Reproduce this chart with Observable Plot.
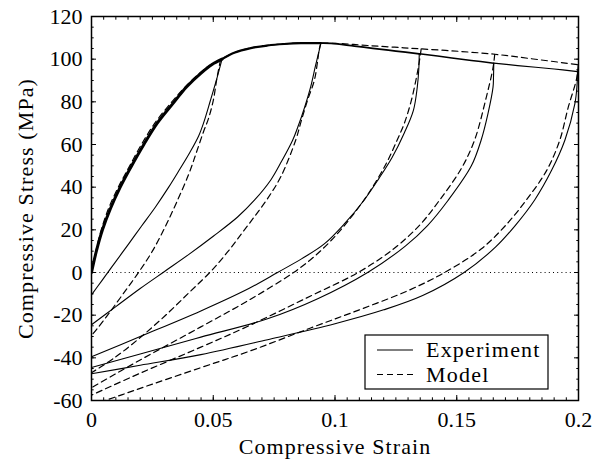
<!DOCTYPE html>
<html><head><meta charset="utf-8">
<script src="https://cdn.jsdelivr.net/npm/d3@7"></script>
<script src="https://cdn.jsdelivr.net/npm/@observablehq/plot@0.6"></script>
<style>
body{margin:0;background:#fff}
#chart{width:604px;height:461px}
#chart svg text{font-family:'Liberation Serif', serif !important}
</style>
</head><body><div id="chart"></div>
<script>
// ---- tick values & labels ----
const xMajor = [0, 0.05, 0.1, 0.15, 0.2];
const xMajorLabels = ["0", "0.05", "0.1", "0.15", "0.2"];
const xMinor = d3.range(0, 41).map(i => i / 200);
const yMajor = [-60, -40, -20, 0, 20, 40, 60, 80, 100, 120];
const yMajorLabels = ["-60", "-40", "-20", "0", "20", "40", "60", "80", "100", "120"];
const yMinor = d3.range(-60, 121, 5);

// ---- strains where unloading starts (experiment) ----
const unloadStrains = [0.0536, 0.0942, 0.1346, 0.1652, 0.1996];

// ---- loading envelope, experiment [strain, stress] ----
const expEnvelope = [[0,0],[0.002,10],[0.0045,20],[0.0078,30],[0.0118,40],[0.016,49],[0.0215,60],[0.027,70],[0.034,80],[0.039,87],[0.045,93.5],[0.0495,97.5],[0.0536,100],[0.0586,103],[0.0654,105.2],[0.0723,106.4],[0.0791,107.1],[0.086,107.5],[0.0942,107.5],[0.0984,107.4],[0.108,106.1],[0.1155,105.1],[0.125,103.8],[0.1346,102.5],[0.148,100.6],[0.156,99.4],[0.1652,98.1],[0.175,97],[0.19,95.4],[0.1996,94.2]];
// ---- loading envelope, model ----
const modelEnvelope = [[0,0],[0.0018,10],[0.004,20],[0.007,30],[0.011,40],[0.0152,49],[0.0205,60],[0.026,70],[0.033,80],[0.0385,87],[0.0445,93.5],[0.049,97.4],[0.053,99.8],[0.0586,103],[0.0654,105.3],[0.0723,106.5],[0.0791,107.2],[0.086,107.6],[0.0942,107.6],[0.104,107.2],[0.1135,106.4],[0.1245,105.6],[0.1354,104.8],[0.1505,103.7],[0.1656,102.3],[0.18,100.3],[0.1999,97.4]];

// ---- unloading curves, experiment ----
const expUnload1 = [[0.0536,100],[0.0515,91],[0.0488,80.5],[0.046,70],[0.044,64],[0.0405,56.5],[0.0355,47],[0.0317,40],[0.0262,30.6],[0.0205,21.7],[0.0152,13.3],[0.0095,4.4],[0.0042,-3.9],[0,-10.5]];
const expUnload2 = [[0.0942,107.5],[0.0935,104],[0.092,97],[0.09,87],[0.0874,77],[0.085,69],[0.0826,62],[0.078,52],[0.0737,43.5],[0.067,34],[0.06,26],[0.05,17],[0.04,8.5],[0.03,0.5],[0.02,-7.5],[0.01,-16],[0,-24.5]];
const expUnload3 = [[0.1346,102.5],[0.1344,95],[0.1338,87],[0.1322,76],[0.1285,65.5],[0.1235,54],[0.118,44],[0.112,34],[0.104,23],[0.0956,13.4],[0.0864,6.5],[0.0764,0],[0.0646,-7.5],[0.0449,-18],[0.02,-30],[0,-39.5]];
const expUnload4 = [[0.1652,98.1],[0.1651,92],[0.1649,86.9],[0.1628,74.4],[0.16,62],[0.156,50],[0.1464,33.75],[0.138,22],[0.129,12.5],[0.1134,0],[0.0929,-12.3],[0.0723,-21.7],[0.0449,-30.3],[0.02,-38.2],[0,-44.5]];
const expUnload5 = [[0.1996,94.2],[0.1994,88],[0.1985,79],[0.1944,62],[0.189,48],[0.182,34],[0.174,22],[0.166,12],[0.153,0],[0.136,-10.8],[0.12,-17.5],[0.1,-24],[0.0723,-31.5],[0.0449,-38.5],[0.02,-43.5],[0,-47.5]];

// ---- unloading curves, model ----
const modelUnload1 = [[0.053,99.8],[0.0515,91],[0.05,80.6],[0.048,72],[0.046,66],[0.043,56],[0.04,46.3],[0.035,33],[0.0303,21.5],[0.025,10],[0.0193,0],[0.013,-10],[0.007,-19.4],[0.0022,-26.5],[0,-29.5]];
const modelUnload2 = [[0.0942,107.6],[0.0935,104.5],[0.0929,99.4],[0.0915,90],[0.0888,81],[0.086,70.5],[0.084,62.5],[0.0778,45],[0.0725,35],[0.0668,26],[0.0615,18],[0.0558,9.5],[0.049,0.5],[0.04,-9.5],[0.03,-20.5],[0.02,-30.5],[0.01,-39.5],[0,-47]];
const modelUnload3 = [[0.1354,104.8],[0.1345,98],[0.1332,90],[0.1312,80],[0.1285,70],[0.1255,62],[0.121,51],[0.114,37.5],[0.106,25],[0.0984,15],[0.091,7],[0.083,0],[0.0646,-13],[0.0449,-25.5],[0.02,-41],[0,-54]];
const modelUnload4 = [[0.1656,102.3],[0.1649,96],[0.1621,82],[0.1573,62],[0.152,49],[0.143,34],[0.135,22.5],[0.124,11],[0.1095,0],[0.09,-11],[0.0646,-25],[0.0449,-35],[0.02,-47.2],[0,-57.5]];
const modelUnload5 = [[0.1999,97.4],[0.1992,90.8],[0.1958,77.5],[0.1923,62],[0.187,48],[0.1786,34],[0.17,22],[0.16,11],[0.145,0],[0.13,-8.5],[0.11,-17.5],[0.09,-26],[0.0646,-37],[0.0449,-44.6],[0.02,-54.3],[0.0097,-58.4],[0,-62]];

const expUnloads = [expUnload1, expUnload2, expUnload3, expUnload4, expUnload5];
const modelUnloads = [modelUnload1, modelUnload2, modelUnload3, modelUnload4, modelUnload5];

// ---- build tables ----
const toRows = (arr, id) => arr.map(([x, y]) => ({x, y, id}));
const expRows = expUnloads.flatMap((a, i) => toRows(a, "e" + i));
const modelRows = modelUnloads.flatMap((a, i) => toRows(a, "m" + i));
const modelEnvRows = toRows(modelEnvelope, "menv");
// envelope split into segments between unloading strains (overlapping reloads look thicker)
const bounds = [0, ...unloadStrains];
const envWidths = [3, 2.2, 1.8, 1.5, 1.2];
const envSegments = bounds.slice(0, -1).map((lo, i) => ({
  rows: toRows(expEnvelope.filter(([x]) => x >= lo - 1e-9 && x <= bounds[i + 1] + 1e-9), "env" + i),
  w: envWidths[i]
}));

const lineStyle = {x: "x", y: "y", z: "id", stroke: "#000", clip: true, curve: "catmull-rom"};

const plot = Plot.plot({
  width: 604, height: 461,
  marginLeft: 91, marginRight: 26, marginTop: 16, marginBottom: 61,
  x: {domain: [0, 0.2]},
  y: {domain: [-60, 120]},
  style: {fontFamily: "'Liberation Serif', serif", fontSize: "22px", color: "#000", background: "#fff"},
  marks: [
    Plot.ruleY([0], {stroke: "#000", strokeWidth: 1, strokeDasharray: "1,3.2"}),
    ...envSegments.map(s => Plot.line(s.rows, {...lineStyle, strokeWidth: s.w})),
    Plot.line(expRows, {...lineStyle, strokeWidth: 1.1}),
    Plot.line(modelEnvRows, {...lineStyle, strokeWidth: 1.2, strokeDasharray: "6,4"}),
    Plot.line(modelRows, {...lineStyle, strokeWidth: 1.2, strokeDasharray: "6,4"}),
    Plot.frame({stroke: "#000", strokeWidth: 1.5}),
    Plot.axisX({anchor: "bottom", ticks: xMajor, tickSize: -5, tickPadding: 16, label: null, tickFormat: d => xMajorLabels[xMajor.indexOf(d)]}),
    Plot.axisX({anchor: "bottom", ticks: xMinor, tickSize: -2.7, label: null, tickFormat: () => ""}),
    Plot.axisX({anchor: "top", ticks: xMajor, tickSize: -5, label: null, tickFormat: () => ""}),
    Plot.axisX({anchor: "top", ticks: xMinor, tickSize: -2.7, label: null, tickFormat: () => ""}),
    Plot.axisY({anchor: "left", ticks: yMajor, tickSize: -5, tickPadding: 14, label: null, tickFormat: d => yMajorLabels[yMajor.indexOf(d)]}),
    Plot.axisY({anchor: "left", ticks: yMinor, tickSize: -2.7, label: null, tickFormat: () => ""}),
    Plot.axisY({anchor: "right", ticks: yMajor, tickSize: -5, label: null, tickFormat: () => ""}),
    Plot.axisY({anchor: "right", ticks: yMinor, tickSize: -2.7, label: null, tickFormat: () => ""}),
    Plot.text(["Compressive Strain"], {frameAnchor: "bottom", dy: 53, fontSize: 22, textAnchor: "middle"}),
    Plot.text(["Compressive Stress (MPa)"], {frameAnchor: "left", rotate: -90, dx: -66, fontSize: 22, textAnchor: "middle"})
  ]
});

document.getElementById("chart").appendChild(plot);

const svg = d3.select(plot);
svg.selectAll("text").filter(function() { return /Compressive/.test(this.textContent); })
  .attr("letter-spacing", "1.1px");

// ---- legend (inside the plot, bottom-right) ----
const legendItems = ["Experiment", "Model"];
const legendDash = [null, "6,4"];
const lg = svg.append("g").attr("font-size", 22).attr("text-anchor", "start");
lg.append("rect").attr("x", 365).attr("y", 335).attr("width", 183).attr("height", 54)
  .attr("fill", "#fff").attr("stroke", "#000").attr("stroke-width", 1.2);
legendItems.forEach((name, i) => {
  const cy = 350 + i * 24.5;
  lg.append("line").attr("x1", 377).attr("x2", 413).attr("y1", cy).attr("y2", cy)
    .attr("stroke", "#000").attr("stroke-width", 1.2).attr("stroke-dasharray", legendDash[i]);
  lg.append("text").attr("x", 426).attr("y", cy + 7).attr("text-anchor", "start").attr("letter-spacing", "1.2px").text(name);
});
</script>
</body></html>
